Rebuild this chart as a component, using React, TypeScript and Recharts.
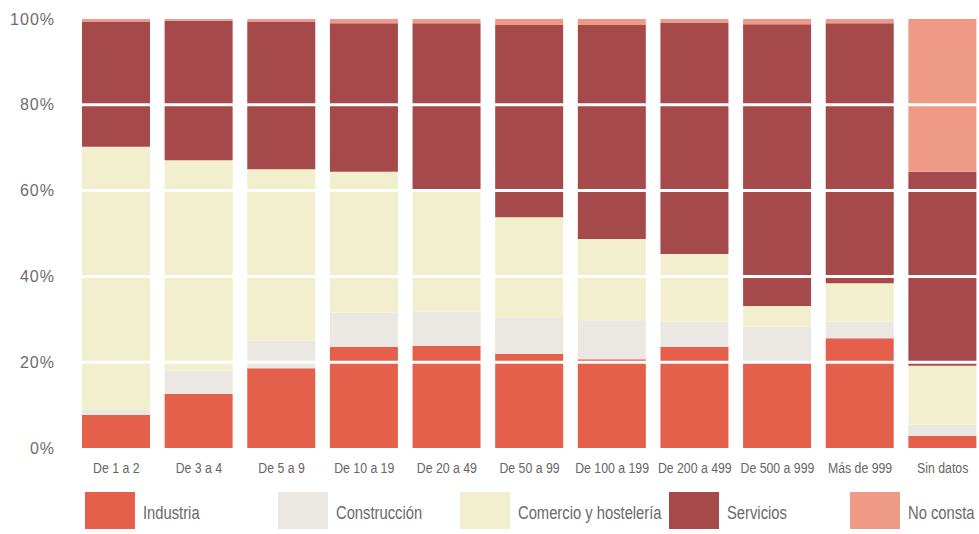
import { BarChart, Bar, XAxis, YAxis, ReferenceLine, Legend } from 'recharts';

const categories = [
    'De 1 a 2', 'De 3 a 4', 'De 5 a 9', 'De 10 a 19', 'De 20 a 49', 'De 50 a 99',
    'De 100 a 199', 'De 200 a 499', 'De 500 a 999', 'Más de 999', 'Sin datos',
];

// % por sector en cada tramo de tamaño
const industria = [7.7, 12.6, 18.6, 23.6, 23.8, 21.9, 20.7, 23.6, 19.8, 25.6, 2.8];
const construccion = [1.2, 5.4, 6.4, 7.9, 8.0, 8.4, 9.1, 5.8, 8.5, 3.8, 2.6];
const comercio = [61.3, 49.1, 40.0, 32.9, 28.5, 23.5, 18.9, 15.8, 4.8, 9.0, 13.8];
const servicios = [29.2, 32.5, 34.4, 34.6, 38.7, 44.8, 49.9, 54.0, 65.7, 60.6, 45.2];
const noConsta = [0.6, 0.4, 0.6, 1.0, 1.0, 1.4, 1.4, 0.8, 1.2, 1.0, 35.6];

const yTicks = [0, 20, 40, 60, 80, 100];
const gridLines = [20, 40, 60, 80];

const series = [
    { key: 'industria', name: 'Industria', color: '#e4604b' },
    { key: 'construccion', name: 'Construcción', color: '#ebe8e3' },
    { key: 'comercio', name: 'Comercio y hostelería', color: '#f2efcf' },
    { key: 'servicios', name: 'Servicios', color: '#a6494a' },
    { key: 'noConsta', name: 'No consta', color: '#ee9a86' },
];

// ancho de cada casilla de la leyenda (layout del original)
const legendSlots = [193, 182, 209, 181, 130];

const data = categories.map((name, i) => ({
    name,
    industria: industria[i],
    construccion: construccion[i],
    comercio: comercio[i],
    servicios: servicios[i],
    noConsta: noConsta[i],
}));

const sans = '"Liberation Sans", Arial, sans-serif';
// no hay fuente estrecha instalada: se comprime Liberation Sans a lo ancho
const SQUEEZE = 0.82;

function NarrowTick({ x, y, payload }: any) {
    return (
        <g transform={`translate(${x},${y})`}>
            <text
                transform={`scale(${SQUEEZE},1)`}
                textAnchor="middle"
                dy="0.71em"
                fill="#666"
                fontSize={15}
                fontFamily={sans}
            >
                {payload.value}
            </text>
        </g>
    );
}

function SectorLegend() {
    return (
        <div style={{ display: 'flex', paddingLeft: 85 }}>
            {series.map((s, i) => (
                <div key={s.key} style={{ display: 'flex', alignItems: 'center', width: legendSlots[i], flex: 'none' }}>
                    <div style={{ width: 50, height: 37, background: s.color, marginRight: 8, flex: 'none' }} />
                    <span
                        style={{
                            display: 'inline-block',
                            fontFamily: sans,
                            fontSize: 18,
                            color: '#6a6a6a',
                            whiteSpace: 'nowrap',
                            paddingTop: 6,
                            transform: `scaleX(${SQUEEZE})`,
                            transformOrigin: 'left center',
                        }}
                    >
                        {s.name}
                    </span>
                </div>
            ))}
        </div>
    );
}

export default function App() {
    return (
        <div style={{ position: 'absolute', left: 0, top: 0, width: 979, height: 534, overflow: 'hidden', background: '#fff' }}>
            <BarChart
                width={989}
                height={534}
                data={data}
                margin={{ top: 19, right: 5, left: 0, bottom: 0 }}
            >
                <XAxis
                    dataKey="name"
                    axisLine={false}
                    tickLine={false}
                    tickSize={0}
                    tickMargin={14}
                    height={44}
                    interval={0}
                    tick={<NarrowTick />}
                />
                <YAxis
                    domain={[0, 100]}
                    ticks={yTicks}
                    width={75}
                    axisLine={false}
                    tickLine={false}
                    tickSize={0}
                    tickMargin={20}
                    tickFormatter={(v) => `${v}%`}
                    tick={{ fill: '#6d6d6d', fontSize: 16, fontFamily: sans, letterSpacing: 1 }}
                />
                <Legend verticalAlign="bottom" height={42} wrapperStyle={{ left: 0, bottom: 0 }} content={<SectorLegend />} />
                {series.map((s) => (
                    <Bar
                        key={s.key}
                        dataKey={s.key}
                        name={s.name}
                        stackId="a"
                        fill={s.color}
                        barSize={68}
                        isAnimationActive={false}
                    />
                ))}
                {gridLines.map((y) => (
                    <ReferenceLine key={y} y={y} stroke="#ffffff" strokeWidth={3} />
                ))}
            </BarChart>
        </div>
    );
}
